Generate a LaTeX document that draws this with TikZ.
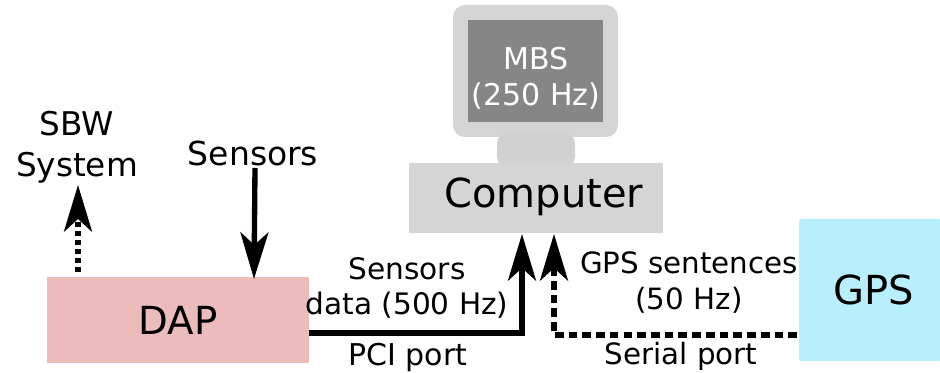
\documentclass[tikz,border=0pt]{standalone}
\usepackage{fontspec}
\setmainfont{DejaVu Sans}
\usetikzlibrary{arrows.meta}
\definecolor{compgray}{HTML}{D5D5D5}
\definecolor{screengray}{HTML}{868686}
\definecolor{dappink}{HTML}{ECBCBD}
\definecolor{gpsblue}{HTML}{B9EFFD}
\tikzset{
  box/.style={draw=none, inner sep=0pt},
  lbl/.style={inner sep=0pt, align=center},
  link/.style={line width=4pt, -{Stealth[length=35pt, width=21pt, inset=9.5pt]}},
  dashlink/.style={link, dash pattern=on 6.5pt off 3.8pt},
  dotlink/.style={link, dash pattern=on 3.75pt off 3pt},
}
\begin{document}
\begin{tikzpicture}[x=0.75pt, y=-0.75pt]
  \useasboundingbox (0,0) rectangle (940,373);
  % Monitor
  \node[box, fill=compgray, rounded corners=9pt, minimum width=123.75pt, minimum height=99pt] (monitor) at (535.5,71) {};
  \node[box, fill=screengray, minimum width=101.25pt, minimum height=76.5pt] (screen) at (535.5,71) {};
  \node[lbl, text=white, font=\fontsize{22.5}{27}\selectfont] (mbs) at (536,78) {MBS\\(250 Hz)};
  \node[box, fill=compgray!98!black, rounded corners=9pt, minimum width=58.5pt, minimum height=27.75pt] (neck) at (536,150) {};
  \node[box, fill=compgray, minimum width=191pt, minimum height=52.5pt] (computer) at (536,198) {};
  \node[lbl, font=\fontsize{30}{36}\selectfont] (comptxt) at (544,197) {Computer};
  % Boxes
  \node[box, fill=dappink, minimum width=196.5pt, minimum height=64.5pt, font=\fontsize{29}{35}\selectfont] (dap) at (178,320) {DAP};
  \node[box, fill=gpsblue, rounded corners=1.5pt, minimum width=106.5pt, minimum height=106.5pt] (gps) at (870,290) {};
  \node[lbl, font=\fontsize{30}{36}\selectfont] (gpsname) at (874,290) {GPS};
  % Labels
  \node[lbl, font=\fontsize{24.5}{30.5}\selectfont] (sbw) at (77,147) {SBW\\System};
  \node[lbl, font=\fontsize{24.75}{30}\selectfont] (sensors) at (253,153) {Sensors};
  \node[lbl, font=\fontsize{22.2}{26}\selectfont] (sdata) at (407,288) {Sensors\\data (500 Hz)};
  \node[lbl, font=\fontsize{22.5}{26}\selectfont] (pci) at (408,357) {PCI port};
  \node[lbl, font=\fontsize{22}{27}\selectfont] (gpstxt) at (689,283) {GPS sentences\\(50 Hz)};
  \node[lbl, font=\fontsize{22}{26}\selectfont] (serial) at (681,356) {Serial port};
  % Anchors of the arrows
  \coordinate (sbwin) at (78,185);
  \coordinate (dapup) at (78,272);
  \coordinate (sensout) at (255,168);
  \coordinate (dapin) at (254,279);
  \coordinate (dapout) at (309,333);
  \coordinate (pciin) at (522,234);
  \coordinate (gpsout) at (797,335);
  \coordinate (serin) at (554,234);
  % Arrows
  \draw[dotlink] (dapup) -- (sbwin);
  \draw[link] (sensout) -- (dapin);
  \draw[link] (dapout) -| (pciin);
  \draw[dashlink] (gpsout) -| (serin);
\end{tikzpicture}
\end{document}
